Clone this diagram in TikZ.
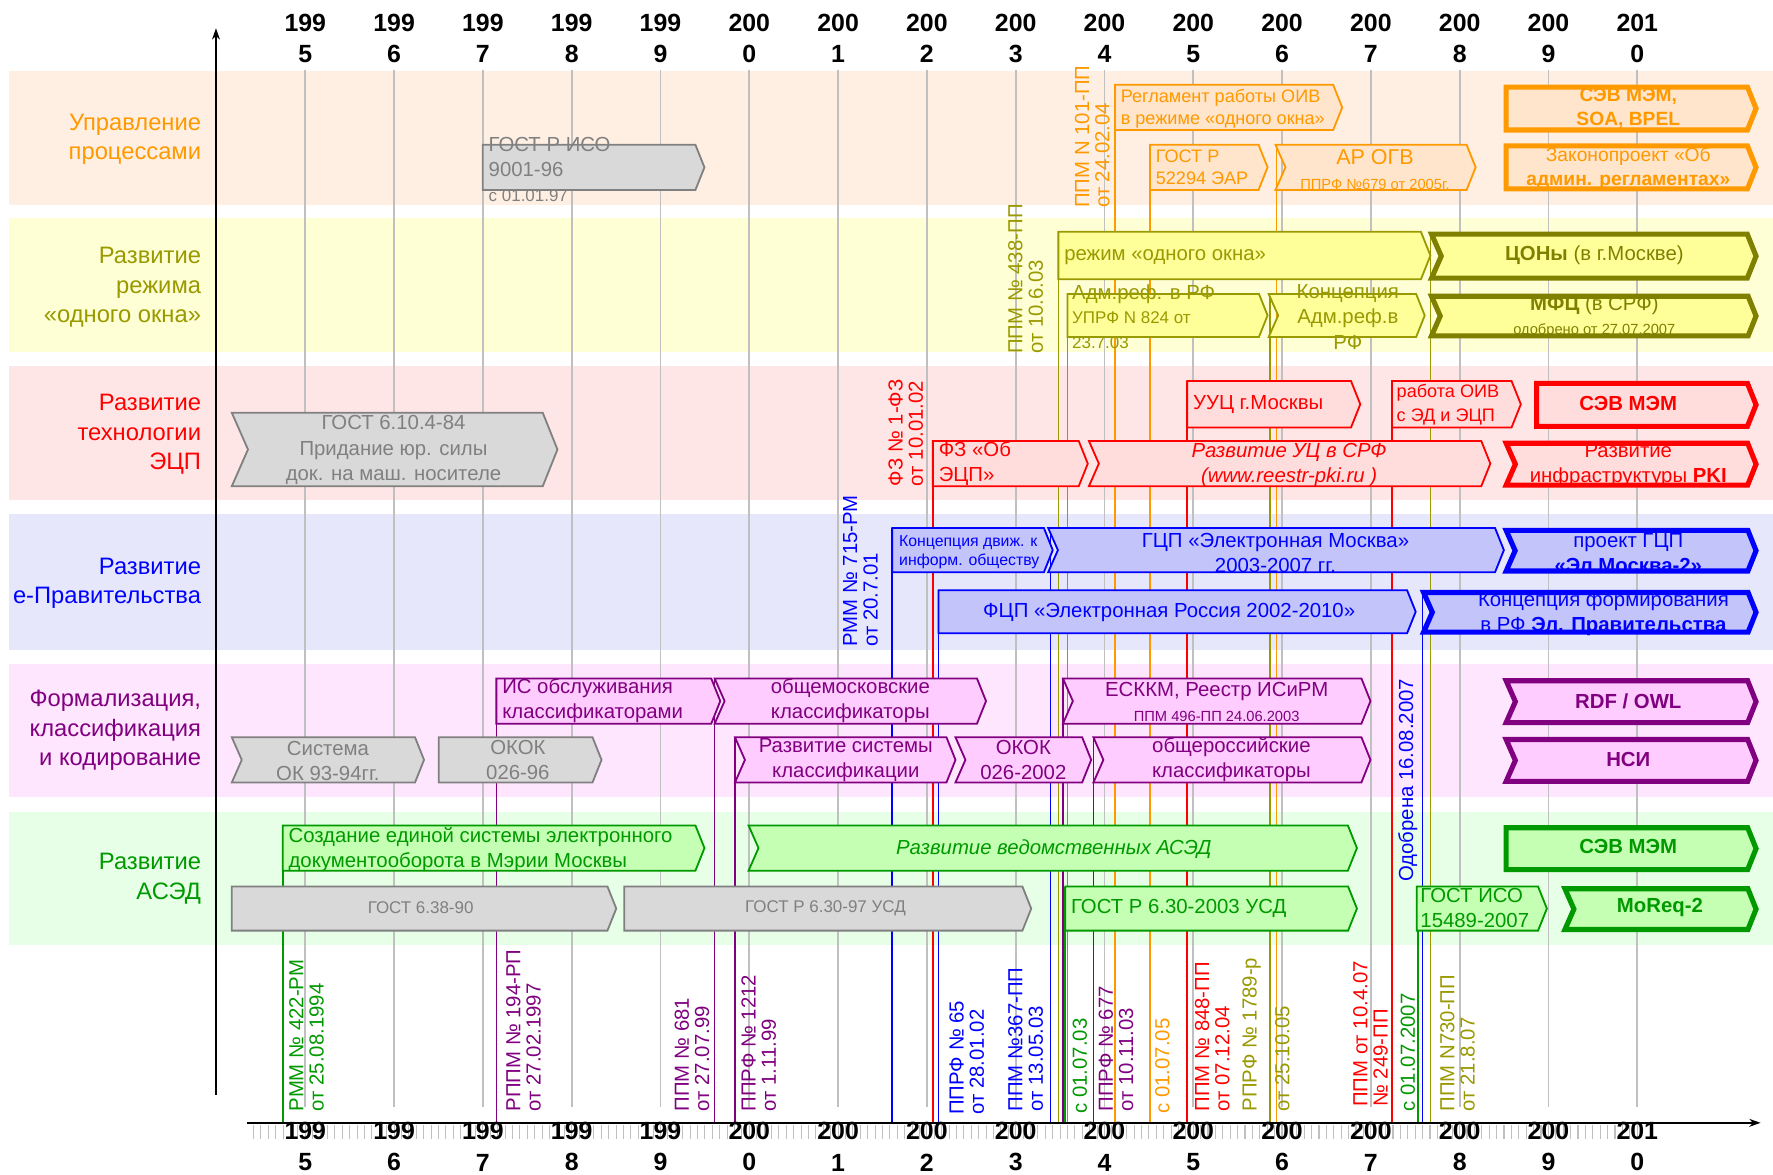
\documentclass[tikz,border=0pt]{standalone}
\usepackage{fontspec}
\setmainfont{Liberation Sans}
\usetikzlibrary{arrows.meta}
\definecolor{cOr}{HTML}{FF9900}
\definecolor{cOrF}{HTML}{FFE5CC}
\definecolor{cOrB}{HTML}{FFEFE3}
\definecolor{cOl}{HTML}{999900}
\definecolor{cOlD}{HTML}{808000}
\definecolor{cOlF}{HTML}{FFFF99}
\definecolor{cOlB}{HTML}{FFFFD5}
\definecolor{cRd}{HTML}{FF0000}
\definecolor{cRdF}{HTML}{FFDDDD}
\definecolor{cRdB}{HTML}{FFE6E6}
\definecolor{cBl}{HTML}{0000FF}
\definecolor{cBlF}{HTML}{C2C4FA}
\definecolor{cBlB}{HTML}{E6E7FA}
\definecolor{cPu}{HTML}{800080}
\definecolor{cPuF}{HTML}{FFCCFF}
\definecolor{cPuB}{HTML}{FFE6FF}
\definecolor{cGr}{HTML}{009900}
\definecolor{cGrF}{HTML}{C4FFB4}
\definecolor{cGrB}{HTML}{E6FFE6}
\definecolor{cGy}{HTML}{808080}
\definecolor{cGyF}{HTML}{D9D9D9}
\definecolor{cGrid}{HTML}{C0C0C0}
\newcommand{\fbx}[5]{\draw[#1] (#2,#3) -- ({#4-0.2*(#5-#3)},#3) -- (#4,{(#3+#5)/2}) -- ({#4-0.2*(#5-#3)},#5) -- (#2,#5) -- cycle;}
\newcommand{\nbx}[5]{\draw[#1] (#2,#3) -- ({#4-0.2*(#5-#3)},#3) -- (#4,{(#3+#5)/2}) -- ({#4-0.2*(#5-#3)},#5) -- (#2,#5) -- ({#2+0.22*(#5-#3)},{(#3+#5)/2}) -- cycle;}
\newcommand{\fsz}[2]{\fontsize{#1}{#2}\selectfont}
\begin{document}
\begin{tikzpicture}[x=1pt,y=-1pt,
  box/.style={line width=1.6pt, line join=miter},
  thk/.style={line width=4.5pt},
  gbx/.style={box, draw=cGy, fill=cGyF},
  obx/.style={box, draw=cOr, fill=cOrF},
  ybx/.style={box, draw=cOl, fill=cOlF},
  ydbx/.style={box, draw=cOlD, fill=cOlF},
  rbx/.style={box, draw=cRd, fill=cRdF},
  bbx/.style={box, draw=cBl, fill=cBlF},
  pbx/.style={box, draw=cPu, fill=cPuF},
  gnbx/.style={box, draw=cGr, fill=cGrF},
  vl/.style={line width=1.5pt},
  gridl/.style={draw=cGrid, line width=1.5pt},
  t/.style={inner sep=0pt, font=\fsz{18}{22}},
  tl/.style={t, anchor=west, align=left},
  tc/.style={t, align=center},
  rot/.style={rotate=90, anchor=west, align=left, inner sep=0pt, font=\fsz{18}{18}},
  yr/.style={inner sep=0pt, align=center, font=\bfseries\fsz{22}{28}},
  band/.style={inner sep=0pt, anchor=east, align=right, font=\fsz{21}{26}},
]
\useasboundingbox (0,0) rectangle (1568,1039);
\fill[white] (0,0) rectangle (1568,1039);
% bands
\fill[cOrB] (8,63) rectangle (1568,181);
\fill[cOlB] (8,193) rectangle (1568,311);
\fill[cRdB] (8,324) rectangle (1568,442);
\fill[cBlB] (8,455) rectangle (1568,575);
\fill[cPuB] (8,587) rectangle (1568,705);
\fill[cGrB] (8,718) rectangle (1568,836);
\node[band, text=cOr] (b1) at (178,123) {Управление\\процессами};
\node[band, text=cOl] (b2) at (178,254) {Развитие\\режима\\«одного окна»};
\node[band, text=cRd] (b3) at (178,384) {Развитие\\технологии\\ЭЦП};
\node[band, text=cBl] (b4) at (178,516) {Развитие\\е-Правительства};
\node[band, text=cPu] (b5) at (178,646) {Формализация,\\классификация\\и кодирование};
\node[band, text=cGr] (b6) at (178,777) {Развитие\\АСЭД};
% gridlines
\foreach \yy in {0,...,15} \draw[gridl] ({270+\yy*78.53},62) -- ({270+\yy*78.53},979);
% colored vertical lines
\draw[vl, cGr] (250,730) -- (250,993);
\draw[vl, cPu] (439,600) -- (439,993);
\draw[vl, cPu] (632,600) -- (632,993);
\draw[vl, cPu] (650,652) -- (650,993);
\draw[vl, cBl] (789,467) -- (789,993);
\draw[vl, cRd] (825,390) -- (825,993);
\draw[vl, cBl] (830,522) -- (830,993);
\draw[vl, cBl] (929,467) -- (929,993);
\draw[vl, cOl] (936,205) -- (936,993);
\draw[vl, cPu] (940,600) -- (940,993);
\draw[vl, cGr] (942,784) -- (942,993);
\draw[vl, cOl] (944,260) -- (944,993);
\draw[vl, cPu] (967,652) -- (967,993);
\draw[vl, cOr] (986,75) -- (986,993);
\draw[vl, cOr] (1017,128) -- (1017,993);
\draw[vl, cRd] (1050,337) -- (1050,993);
\draw[vl, cOl] (1123,260) -- (1123,993);
\draw[vl, cOr] (1129,128) -- (1129,993);
\draw[vl, cRd] (1231,337) -- (1231,993);
\draw[vl, cGr] (1254,784) -- (1254,993);
\draw[vl, cBl] (1258,522) -- (1258,993);
\draw[vl, cOl] (1265,205) -- (1265,993);
% ---- band 1
\fbx{gbx}{427}{128}{623}{168}
\node[tl, text=cGy] (t1a) at (432,150) {ГОСТ Р ИСО\\9001-96\\{\fsz{15}{20}с 01.01.97}};
\fbx{obx}{986}{75}{1187}{115}
\node[tl, text=cOr, font=\fsz{16}{20}] (t1b) at (991,96) {Регламент работы ОИВ\\в режиме «одного окна»};
\fbx{obx}{1017}{128}{1121}{168}
\node[tl, text=cOr, font=\fsz{16}{20}] (t1c) at (1022,148) {ГОСТ Р\\52294 ЭАР};
\nbx{obx}{1128}{128}{1305}{168}
\node[tc, text=cOr] (t1d) at (1216,150) {{\fsz{19}{20}АР ОГВ}\\{\fsz{13}{18}ППРФ №679 от 2005г.}};
\fbx{obx,thk}{1332}{77}{1553}{115}
\node[tc, text=cOr, font=\bfseries\fsz{17}{21}] (t1e) at (1440,96) {СЭВ МЭМ,\\SOA, BPEL};
\fbx{obx,thk}{1332}{129}{1553}{167}
\node[tc, text=cOr, font=\fsz{17}{22}] (t1f) at (1440,149) {Законопроект «Об\\\textbf{админ. регламентах»}};
% ---- band 2
\fbx{ybx}{936}{205}{1265}{247}
\node[tl, text=cOl] (t2a) at (941,227) {режим «одного окна»};
\nbx{ydbx,thk}{1266}{207}{1553}{246}
\node[tc, text=cOlD] (t2b) at (1410,226) {\textbf{ЦОНы} (в г.Москве)};
\fbx{ybx}{944}{260}{1121}{298}
\node[tl, text=cOl] (t2c) at (948,280) {Адм.реф. в РФ\\{\fsz{15}{21}УПРФ N 824 от}\\{\fsz{15}{20}23.7.03}};
\nbx{ybx}{1122}{260}{1260}{298}
\node[tc, text=cOl, font=\fsz{18}{22.5}] (t2d) at (1192,280) {Концепция\\Адм.реф.в\\РФ};
\nbx{ydbx,thk}{1266}{262}{1553}{297}
\node[tc, text=cOlD] (t2e) at (1410,280) {\textbf{МФЦ} (в СРФ)\\{\fsz{13}{18}одобрено от 27.07.2007}};
% ---- band 3
\nbx{gbx}{205}{365}{493}{430}
\node[tc, text=cGy, font=\fsz{18}{22.5}] (t3a) at (348,398) {ГОСТ 6.10.4-84\\Придание юр. силы\\док. на маш. носителе};
\fbx{rbx}{1050}{337}{1203}{378}
\node[tl, text=cRd] (t3b) at (1055,358) {УУЦ г.Москвы};
\fbx{rbx}{1231}{337}{1345}{378}
\node[tl, text=cRd, font=\fsz{16}{21}] (t3c) at (1235,358) {работа ОИВ\\с ЭД и ЭЦП};
\fbx{rbx,thk}{1359}{339}{1553}{377}
\node[tc, text=cRd, font=\bfseries\fsz{18}{22}] (t3d) at (1440,357) {СЭВ МЭМ};
\fbx{rbx}{825}{390}{962}{430}
\node[tl, text=cRd] (t3e) at (830,410) {ФЗ «Об\\ЭЦП»};
\nbx{rbx}{963}{390}{1318}{430}
\node[tc, text=cRd, font=\itshape\fsz{18}{22}] (t3f) at (1140,411) {Развитие УЦ в СРФ\\(www.reestr-pki.ru )};
\nbx{rbx,thk}{1332}{392}{1553}{429}
\node[tc, text=cRd] (t3g) at (1440,411) {Развитие\\инфраструктуры \textbf{PKI}};
% ---- band 4
\fbx{bbx}{789}{467}{931}{506}
\node[tl, text=cBl, font=\fsz{14}{17}] (t4a) at (795,488) {Концепция движ. к\\информ. обществу};
\nbx{bbx}{927}{467}{1330}{506}
\node[tc, text=cBl] (t4b) at (1128,489) {ГЦП «Электронная Москва»\\2003-2007 гг.};
\nbx{bbx,thk}{1332}{469}{1553}{505}
\node[tc, text=cBl] (t4c) at (1440,489) {проект ГЦП\\\textbf{«Эл.Москва-2»}};
\fbx{bbx}{830}{522}{1252}{560}
\node[tc, text=cBl] (t4d) at (1034,542) {ФЦП «Электронная Россия 2002-2010»};
\nbx{bbx,thk}{1259}{524}{1553}{559}
\node[tc, text=cBl] (t4e) at (1418,543) {Концепция формирования\\в РФ \textbf{Эл. Правительства}};
% ---- band 5
\fbx{pbx}{439}{600}{637}{640}
\node[tl, text=cPu] (t5a) at (444,620) {ИС обслуживания\\классификаторами};
\nbx{pbx}{632}{600}{872}{640}
\node[tc, text=cPu] (t5b) at (752,620) {общемосковские\\классификаторы};
\nbx{pbx}{940}{600}{1212}{640}
\node[tc, text=cPu] (t5c) at (1076,621) {ЕСККМ, Реестр ИСиРМ\\{\fsz{13}{18}ППМ 496-ПП 24.06.2003}};
\nbx{pbx,thk}{1332}{602}{1553}{639}
\node[tc, text=cPu, font=\bfseries\fsz{18}{22}] (t5d) at (1440,620) {RDF / OWL};
\nbx{gbx}{205}{652}{375}{692}
\node[tc, text=cGy] (t5e) at (290,673) {Система\\ОК 93-94гг.};
\fbx{gbx}{388}{652}{532}{692}
\node[tc, text=cGy] (t5f) at (458,672) {ОКОК\\026-96};
\nbx{pbx}{650}{652}{845}{692}
\node[tc, text=cPu] (t5g) at (748,672) {Развитие системы\\классификации};
\nbx{pbx}{845}{652}{965}{692}
\node[tc, text=cPu] (t5h) at (905,672) {ОКОК\\026-2002};
\nbx{pbx}{967}{652}{1212}{692}
\node[tc, text=cPu] (t5i) at (1089,672) {общероссийские\\классификаторы};
\nbx{pbx,thk}{1332}{654}{1553}{691}
\node[tc, text=cPu, font=\bfseries\fsz{18}{22}] (t5j) at (1440,672) {НСИ};
% ---- band 6
\fbx{gnbx}{250}{730}{623}{770}
\node[tl, text=cGr] (t6a) at (255,751) {Создание единой системы электронного\\документооборота в Мэрии Москвы};
\nbx{gnbx}{662}{730}{1200}{770}
\node[tc, text=cGr, font=\itshape\fsz{18}{22}] (t6b) at (932,751) {Развитие ведомственных АСЭД};
\fbx{gnbx,thk}{1332}{732}{1553}{769}
\node[tc, text=cGr, font=\bfseries\fsz{18}{22}] (t6c) at (1440,749) {СЭВ МЭМ};
\fbx{gbx}{205}{784}{545}{823}
\node[tc, text=cGy, font=\fsz{15}{20}] (t6d) at (372,803) {ГОСТ 6.38-90};
\fbx{gbx}{552}{784}{912}{823}
\node[tc, text=cGy, font=\fsz{15}{20}] (t6e) at (730,803) {ГОСТ Р 6.30-97 УСД};
\fbx{gnbx}{942}{784}{1200}{823}
\node[tl, text=cGr] (t6f) at (947,803) {ГОСТ Р 6.30-2003 УСД};
\fbx{gnbx}{1253}{784}{1368}{823}
\node[tl, text=cGr] (t6g) at (1256,803) {ГОСТ ИСО\\15489-2007};
\nbx{gnbx,thk}{1384}{786}{1553}{822}
\node[tc, text=cGr, font=\bfseries\fsz{18}{22}] (t6h) at (1468,803) {MoReq-2};
% ---- rotated labels (top)
\node[rot, text=cOr] (l101) at (966,184) {ППМ N 101-ПП\\от 24.02.04};
\node[rot, text=cOl] (l438) at (907,313) {ППМ № 438-ПП\\от 10.6.03};
\node[rot, text=cRd] (lfz) at (801,430) {ФЗ № 1-ФЗ\\от 10.01.02};
\node[rot, text=cBl] (l715) at (761,572) {РММ № 715-РМ\\от 20.7.01};
\node[rot, text=cBl] (lodo) at (1245,780) {Одобрена 16.08.2007};
% ---- rotated labels (bottom)
\node[rot, text=cGr] (l422) at (271,983) {РММ № 422-РМ\\от 25.08.1994};
\node[rot, text=cPu] (l194) at (463,983) {РППМ № 194-РП\\от 27.02.1997};
\node[rot, text=cPu] (l681) at (612,983) {ППМ № 681\\от 27.07.99};
\node[rot, text=cPu] (l1212) at (671,983) {ППРФ № 1212\\от 1.11.99};
\node[rot, text=cBl] (l65) at (855,986) {ППРФ № 65\\от 28.01.02};
\node[rot, text=cBl] (l367) at (907,983) {ППМ №367-ПП\\от 13.05.03};
\node[rot, text=cGr] (l0703) at (955,985) {с 01.07.03};
\node[rot, text=cPu] (l677) at (987,983) {ППРФ № 677\\от 10.11.03};
\node[rot, text=cOr] (l0705) at (1028,985) {с 01.07.05};
\node[rot, text=cRd] (l848) at (1072,983) {ППМ № 848-ПП\\от 07.12.04};
\node[rot, text=cOl] (l1789) at (1107,983) {РПРФ № 1789-р};
\node[rot, text=cOl] (l2510) at (1134,983) {от 25.10.05};
\node[rot, text=cRd] (l249) at (1212,979) {ППМ от 10.4.07\\№ 249-ПП};
\node[rot, text=cGr] (l2007) at (1245,983) {с 01.07.2007};
\node[rot, text=cOl] (l730) at (1289,983) {ППМ N730-ПП\\от 21.8.07};
% ---- axes
\foreach \i in {-7,...,180} \draw[cGrid, line width=1pt] ({270+\i*6.544},995) -- ++(0,12);
\draw[line width=1.5pt, -{Stealth[length=10pt,width=7pt]}] (191,968) -- (191,25);
\draw[line width=1.5pt, -{Stealth[length=10pt,width=7pt]}] (218,993) -- (1557,993);
\foreach \yy/\a/\b in {0/199/5,1/199/6,2/199/7,3/199/8,4/199/9,5/200/0,6/200/1,7/200/2,8/200/3,9/200/4,10/200/5,11/200/6,12/200/7,13/200/8,14/200/9,15/201/0} {
  \node[yr] at ({270+\yy*78.53},34) {\a\\\b};
  \node[yr] at ({270+\yy*78.53},1014) {\a\\\b};
}
\end{tikzpicture}
\end{document}
